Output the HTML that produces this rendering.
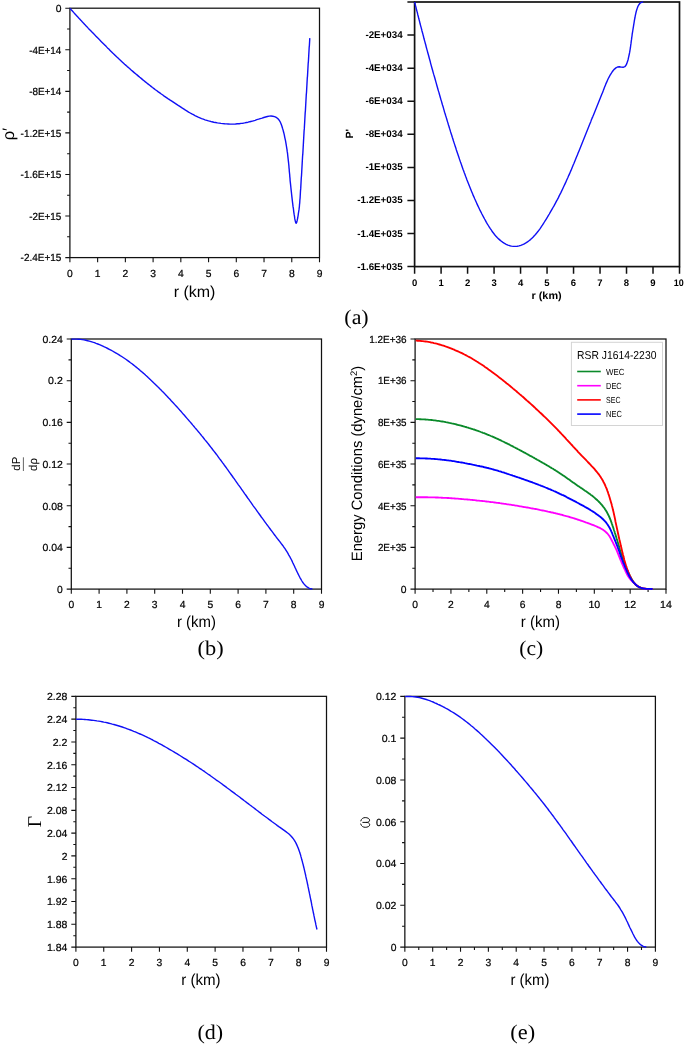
<!DOCTYPE html>
<html><head><meta charset="utf-8"><title>Figure</title>
<style>html,body{margin:0;padding:0;background:#fff}svg{display:block;will-change:transform;text-rendering:geometricPrecision}</style></head>
<body>
<svg width="685" height="1045" viewBox="0 0 685 1045" font-family="Liberation Sans, sans-serif" fill="#000">
<rect width="685" height="1045" fill="#fff"/>
<rect x="69.9" y="8.2" width="249.60" height="249.40" fill="none" stroke="#111" stroke-width="1.25"/>
<path d="M65.30,8.20H69.90M65.30,49.77H69.90M65.30,91.33H69.90M65.30,132.90H69.90M65.30,174.47H69.90M65.30,216.03H69.90M65.30,257.60H69.90M67.10,28.98H69.90M67.10,70.55H69.90M67.10,112.12H69.90M67.10,153.68H69.90M67.10,195.25H69.90M67.10,236.82H69.90M69.90,257.60V262.20M97.63,257.60V262.20M125.37,257.60V262.20M153.10,257.60V262.20M180.83,257.60V262.20M208.57,257.60V262.20M236.30,257.60V262.20M264.03,257.60V262.20M291.77,257.60V262.20M319.50,257.60V262.20" fill="none" stroke="#111" stroke-width="1.1"/>
<text x="61.4" y="12" text-anchor="end" font-size="10.3" stroke="#000" stroke-width="0.22">0</text>
<text x="61.4" y="54" text-anchor="end" font-size="10.3" stroke="#000" stroke-width="0.22" textLength="32.2" lengthAdjust="spacingAndGlyphs">-4E+14</text>
<text x="61.4" y="95" text-anchor="end" font-size="10.3" stroke="#000" stroke-width="0.22" textLength="32.2" lengthAdjust="spacingAndGlyphs">-8E+14</text>
<text x="61.4" y="137" text-anchor="end" font-size="10.3" stroke="#000" stroke-width="0.22" textLength="40.8" lengthAdjust="spacingAndGlyphs">-1.2E+15</text>
<text x="61.4" y="178" text-anchor="end" font-size="10.3" stroke="#000" stroke-width="0.22" textLength="40.8" lengthAdjust="spacingAndGlyphs">-1.6E+15</text>
<text x="61.4" y="220" text-anchor="end" font-size="10.3" stroke="#000" stroke-width="0.22" textLength="32.2" lengthAdjust="spacingAndGlyphs">-2E+15</text>
<text x="61.4" y="261" text-anchor="end" font-size="10.3" stroke="#000" stroke-width="0.22" textLength="40.8" lengthAdjust="spacingAndGlyphs">-2.4E+15</text>
<text x="69.9" y="277" text-anchor="middle" font-size="10.3" stroke="#000" stroke-width="0.22">0</text>
<text x="97.6" y="277" text-anchor="middle" font-size="10.3" stroke="#000" stroke-width="0.22">1</text>
<text x="125.4" y="277" text-anchor="middle" font-size="10.3" stroke="#000" stroke-width="0.22">2</text>
<text x="153.1" y="277" text-anchor="middle" font-size="10.3" stroke="#000" stroke-width="0.22">3</text>
<text x="180.8" y="277" text-anchor="middle" font-size="10.3" stroke="#000" stroke-width="0.22">4</text>
<text x="208.6" y="277" text-anchor="middle" font-size="10.3" stroke="#000" stroke-width="0.22">5</text>
<text x="236.3" y="277" text-anchor="middle" font-size="10.3" stroke="#000" stroke-width="0.22">6</text>
<text x="264.0" y="277" text-anchor="middle" font-size="10.3" stroke="#000" stroke-width="0.22">7</text>
<text x="291.8" y="277" text-anchor="middle" font-size="10.3" stroke="#000" stroke-width="0.22">8</text>
<text x="319.5" y="277" text-anchor="middle" font-size="10.3" stroke="#000" stroke-width="0.22">9</text>
<path d="M70.0,8.3 L71.2,9.7 L72.4,11.0 L73.6,12.4 L74.8,13.7 L76.0,15.1 L77.3,16.4 L78.5,17.8 L79.7,19.1 L81.0,20.4 L82.2,21.8 L83.4,23.1 L84.7,24.4 L85.9,25.8 L87.2,27.1 L88.4,28.4 L89.7,29.7 L91.0,31.0 L92.2,32.3 L93.5,33.6 L94.8,34.9 L96.0,36.2 L97.3,37.5 L98.6,38.8 L99.8,40.1 L101.1,41.4 L102.4,42.7 L103.7,44.0 L105.0,45.3 L106.3,46.6 L107.5,47.9 L108.8,49.1 L110.1,50.4 L111.4,51.7 L112.7,53.0 L114.0,54.2 L115.3,55.5 L116.6,56.8 L118.0,58.0 L119.3,59.3 L120.6,60.5 L121.9,61.7 L123.3,63.0 L124.6,64.2 L126.0,65.4 L127.3,66.6 L128.7,67.8 L130.1,69.0 L131.4,70.2 L132.8,71.4 L134.2,72.6 L135.6,73.8 L137.0,74.9 L138.4,76.1 L139.8,77.3 L141.2,78.4 L142.6,79.6 L144.0,80.7 L145.4,81.9 L146.8,83.0 L148.2,84.1 L149.7,85.3 L151.1,86.4 L152.5,87.5 L154.0,88.6 L155.4,89.7 L156.9,90.8 L158.3,91.9 L159.8,92.9 L161.3,94.0 L162.8,95.0 L164.2,96.1 L165.7,97.1 L167.2,98.1 L168.7,99.2 L170.2,100.2 L171.8,101.2 L173.3,102.2 L174.8,103.2 L176.3,104.2 L177.8,105.2 L179.4,106.2 L180.9,107.2 L182.4,108.2 L184.0,109.2 L185.5,110.2 L187.1,111.1 L188.6,112.1 L190.2,113.0 L191.8,113.9 L193.4,114.7 L195.0,115.6 L196.6,116.4 L198.2,117.2 L199.9,117.9 L201.6,118.6 L203.3,119.2 L205.0,119.8 L206.8,120.3 L208.5,120.9 L210.3,121.3 L212.0,121.8 L213.8,122.2 L215.6,122.5 L217.4,122.9 L219.2,123.1 L221.0,123.4 L222.8,123.6 L224.6,123.8 L226.4,123.9 L228.2,124.0 L230.1,124.1 L231.9,124.1 L233.7,124.1 L235.5,124.0 L237.4,123.8 L239.2,123.7 L241.0,123.4 L242.8,123.2 L244.6,122.9 L246.4,122.5 L248.1,122.2 L249.9,121.7 L251.6,121.3 L253.4,120.8 L255.1,120.3 L256.8,119.7 L258.6,119.2 L260.3,118.6 L262.1,118.1 L263.8,117.5 L265.6,117.0 L267.4,116.5 L269.2,116.1 L271.0,116.0 L272.8,116.2 L274.6,116.6 L276.2,117.4 L277.7,118.5 L278.9,119.8 L279.9,121.3 L280.7,123.0 L281.4,124.7 L282.0,126.5 L282.5,128.3 L283.1,130.1 L283.5,131.8 L284.0,133.6 L284.4,135.3 L284.7,137.1 L285.1,138.9 L285.5,140.6 L285.8,142.4 L286.1,144.2 L286.4,146.0 L286.7,147.8 L287.0,149.6 L287.2,151.4 L287.5,153.2 L287.7,155.0 L287.9,156.8 L288.1,158.6 L288.3,160.4 L288.5,162.2 L288.7,164.0 L288.9,165.8 L289.0,167.6 L289.2,169.4 L289.3,171.2 L289.5,173.0 L289.7,174.8 L289.8,176.6 L290.0,178.4 L290.1,180.3 L290.3,182.1 L290.5,183.9 L290.7,185.8 L290.9,187.7 L291.1,189.6 L291.3,191.4 L291.5,193.3 L291.7,195.1 L291.9,196.9 L292.1,198.7 L292.3,200.4 L292.5,202.1 L292.7,203.7 L292.9,205.3 L293.1,206.9 L293.4,208.5 L293.6,210.3 L293.8,212.1 L294.1,214.2 L294.5,216.4 L294.8,218.9 L295.3,221.1 L295.7,222.7 L296.2,223.2 L296.7,222.3 L297.2,220.4 L297.7,218.0 L298.1,215.6 L298.4,213.4 L298.7,211.5 L299.0,209.7 L299.2,208.0 L299.4,206.3 L299.5,204.7 L299.7,203.2 L299.8,201.5 L299.9,199.8 L300.1,198.1 L300.2,196.3 L300.3,194.5 L300.4,192.6 L300.5,190.7 L300.7,188.9 L300.8,187.0 L300.9,185.1 L301.0,183.2 L301.1,181.3 L301.2,179.5 L301.3,177.7 L301.5,175.8 L301.6,174.0 L301.7,172.2 L301.8,170.3 L301.9,168.5 L302.0,166.7 L302.1,164.9 L302.2,163.1 L302.3,161.3 L302.4,159.5 L302.5,157.8 L302.6,156.0 L302.8,154.2 L302.9,152.4 L303.0,150.6 L303.1,148.8 L303.2,147.0 L303.3,145.2 L303.4,143.4 L303.5,141.6 L303.6,139.8 L303.7,138.0 L303.8,136.2 L303.9,134.4 L304.0,132.6 L304.1,130.8 L304.3,128.9 L304.4,127.1 L304.5,125.3 L304.6,123.5 L304.7,121.7 L304.8,119.9 L304.9,118.0 L305.0,116.2 L305.1,114.4 L305.2,112.6 L305.4,110.8 L305.5,108.9 L305.6,107.1 L305.7,105.3 L305.8,103.5 L305.9,101.6 L306.0,99.8 L306.1,98.0 L306.2,96.2 L306.3,94.3 L306.5,92.5 L306.6,90.7 L306.7,88.8 L306.8,87.0 L306.9,85.2 L307.0,83.4 L307.1,81.5 L307.2,79.7 L307.3,77.9 L307.5,76.1 L307.6,74.3 L307.7,72.4 L307.8,70.6 L307.9,68.8 L308.0,67.0 L308.1,65.2 L308.2,63.3 L308.4,61.5 L308.5,59.7 L308.6,57.9 L308.7,56.1 L308.8,54.3 L308.9,52.5 L309.0,50.7 L309.1,48.9 L309.2,47.1 L309.4,45.3 L309.5,43.5 L309.6,41.7 L309.7,39.9 L309.8,38.1" fill="none" stroke="#1010f5" stroke-width="1.4" stroke-linejoin="round"/>
<text x="194.5" y="297" text-anchor="middle" font-size="15.8" textLength="41.7" lengthAdjust="spacingAndGlyphs">r (km)</text>
<text transform="translate(14.4,140.3) rotate(-90)" font-size="16.5">ρ′</text>
<rect x="414.6" y="2.0" width="264.90" height="264.60" fill="none" stroke="#111" stroke-width="1.7"/>
<path d="M407.40,2.00H414.60M407.40,35.08H414.60M407.40,68.15H414.60M407.40,101.23H414.60M407.40,134.30H414.60M407.40,167.38H414.60M407.40,200.45H414.60M407.40,233.53H414.60M407.40,266.60H414.60M414.60,266.60V273.80M441.09,266.60V273.80M467.58,266.60V273.80M494.07,266.60V273.80M520.56,266.60V273.80M547.05,266.60V273.80M573.54,266.60V273.80M600.03,266.60V273.80M626.52,266.60V273.80M653.01,266.60V273.80M679.50,266.60V273.80" fill="none" stroke="#111" stroke-width="1.5"/>
<text x="402.7" y="38" text-anchor="end" font-size="9.8" font-weight="bold">-2E+034</text>
<text x="402.7" y="71" text-anchor="end" font-size="9.8" font-weight="bold">-4E+034</text>
<text x="402.7" y="104" text-anchor="end" font-size="9.8" font-weight="bold">-6E+034</text>
<text x="402.7" y="137" text-anchor="end" font-size="9.8" font-weight="bold">-8E+034</text>
<text x="402.7" y="170" text-anchor="end" font-size="9.8" font-weight="bold">-1E+035</text>
<text x="402.7" y="203" text-anchor="end" font-size="9.8" font-weight="bold">-1.2E+035</text>
<text x="402.7" y="237" text-anchor="end" font-size="9.8" font-weight="bold">-1.4E+035</text>
<text x="402.7" y="270" text-anchor="end" font-size="9.8" font-weight="bold">-1.6E+035</text>
<text x="414.6" y="286" text-anchor="middle" font-size="9.5" font-weight="bold">0</text>
<text x="441.1" y="286" text-anchor="middle" font-size="9.5" font-weight="bold">1</text>
<text x="467.6" y="286" text-anchor="middle" font-size="9.5" font-weight="bold">2</text>
<text x="494.1" y="286" text-anchor="middle" font-size="9.5" font-weight="bold">3</text>
<text x="520.6" y="286" text-anchor="middle" font-size="9.5" font-weight="bold">4</text>
<text x="547.0" y="286" text-anchor="middle" font-size="9.5" font-weight="bold">5</text>
<text x="573.5" y="286" text-anchor="middle" font-size="9.5" font-weight="bold">6</text>
<text x="600.0" y="286" text-anchor="middle" font-size="9.5" font-weight="bold">7</text>
<text x="626.5" y="286" text-anchor="middle" font-size="9.5" font-weight="bold">8</text>
<text x="653.0" y="286" text-anchor="middle" font-size="9.5" font-weight="bold">9</text>
<text x="678.7" y="286" text-anchor="middle" font-size="9.5" font-weight="bold" textLength="10" lengthAdjust="spacingAndGlyphs">10</text>
<path d="M414.6,2.0 L415.1,3.8 L415.5,5.6 L416.0,7.4 L416.4,9.3 L416.9,11.1 L417.4,12.9 L417.8,14.7 L418.3,16.5 L418.7,18.3 L419.2,20.1 L419.7,22.0 L420.1,23.8 L420.6,25.6 L421.1,27.4 L421.6,29.2 L422.0,31.0 L422.5,32.8 L423.0,34.6 L423.5,36.5 L423.9,38.3 L424.4,40.1 L424.9,41.9 L425.4,43.7 L425.9,45.5 L426.3,47.3 L426.8,49.1 L427.3,50.9 L427.8,52.7 L428.3,54.5 L428.8,56.3 L429.3,58.2 L429.8,60.0 L430.3,61.8 L430.7,63.6 L431.2,65.4 L431.7,67.2 L432.2,69.0 L432.7,70.8 L433.2,72.6 L433.7,74.4 L434.3,76.2 L434.8,78.0 L435.3,79.8 L435.8,81.6 L436.3,83.4 L436.8,85.2 L437.3,87.0 L437.8,88.8 L438.3,90.6 L438.9,92.4 L439.4,94.2 L439.9,96.0 L440.4,97.8 L440.9,99.6 L441.5,101.4 L442.0,103.2 L442.5,105.0 L443.1,106.8 L443.6,108.6 L444.1,110.4 L444.6,112.2 L445.2,114.0 L445.7,115.8 L446.3,117.6 L446.8,119.3 L447.3,121.1 L447.9,122.9 L448.4,124.7 L449.0,126.5 L449.5,128.3 L450.1,130.1 L450.6,131.9 L451.2,133.7 L451.8,135.5 L452.3,137.2 L452.9,139.0 L453.4,140.8 L454.0,142.6 L454.6,144.4 L455.2,146.2 L455.8,147.9 L456.3,149.7 L456.9,151.5 L457.5,153.3 L458.1,155.0 L458.7,156.8 L459.3,158.6 L459.9,160.4 L460.5,162.1 L461.2,163.9 L461.8,165.7 L462.4,167.4 L463.0,169.2 L463.7,171.0 L464.3,172.7 L465.0,174.5 L465.6,176.2 L466.3,178.0 L466.9,179.7 L467.6,181.5 L468.3,183.2 L469.0,185.0 L469.7,186.7 L470.4,188.4 L471.1,190.2 L471.8,191.9 L472.5,193.6 L473.2,195.4 L474.0,197.1 L474.7,198.8 L475.5,200.5 L476.3,202.2 L477.0,203.9 L477.8,205.6 L478.6,207.3 L479.4,209.0 L480.2,210.7 L481.1,212.3 L481.9,214.0 L482.8,215.7 L483.7,217.3 L484.6,219.0 L485.5,220.6 L486.4,222.3 L487.3,223.9 L488.3,225.5 L489.3,227.1 L490.3,228.7 L491.4,230.2 L492.4,231.8 L493.6,233.3 L494.7,234.7 L496.0,236.2 L497.2,237.5 L498.6,238.9 L500.0,240.1 L501.4,241.3 L502.9,242.4 L504.5,243.4 L506.2,244.3 L507.9,245.1 L509.7,245.7 L511.5,246.1 L513.4,246.4 L515.3,246.4 L517.2,246.2 L519.0,245.9 L520.8,245.3 L522.6,244.6 L524.3,243.8 L525.9,242.9 L527.5,241.9 L529.0,240.8 L530.5,239.6 L531.9,238.3 L533.2,237.0 L534.5,235.6 L535.7,234.2 L536.9,232.8 L538.1,231.3 L539.2,229.8 L540.3,228.3 L541.4,226.7 L542.4,225.2 L543.4,223.6 L544.4,222.0 L545.4,220.4 L546.4,218.8 L547.4,217.2 L548.3,215.6 L549.3,214.0 L550.2,212.4 L551.2,210.7 L552.1,209.1 L553.0,207.5 L554.0,205.9 L554.9,204.2 L555.7,202.6 L556.6,200.9 L557.5,199.3 L558.4,197.6 L559.2,195.9 L560.0,194.3 L560.9,192.6 L561.7,190.9 L562.5,189.2 L563.3,187.5 L564.1,185.8 L564.9,184.1 L565.7,182.4 L566.4,180.7 L567.2,179.0 L568.0,177.3 L568.7,175.6 L569.5,173.9 L570.2,172.2 L571.0,170.4 L571.7,168.7 L572.4,167.0 L573.1,165.3 L573.9,163.5 L574.6,161.8 L575.3,160.1 L576.0,158.3 L576.7,156.6 L577.4,154.9 L578.1,153.1 L578.8,151.4 L579.5,149.7 L580.2,147.9 L580.9,146.2 L581.6,144.5 L582.3,142.7 L583.0,141.0 L583.7,139.2 L584.4,137.5 L585.1,135.8 L585.8,134.0 L586.5,132.3 L587.2,130.5 L587.9,128.8 L588.6,127.1 L589.3,125.3 L590.0,123.6 L590.7,121.9 L591.3,120.1 L592.0,118.4 L592.8,116.6 L593.5,114.9 L594.2,113.2 L594.9,111.4 L595.6,109.7 L596.3,108.0 L597.0,106.3 L597.7,104.5 L598.4,102.8 L599.1,101.0 L599.8,99.3 L600.5,97.6 L601.2,95.8 L601.9,94.1 L602.6,92.4 L603.3,90.6 L603.9,88.9 L604.6,87.1 L605.3,85.4 L606.0,83.6 L606.8,81.9 L607.5,80.2 L608.3,78.5 L609.2,76.8 L610.1,75.2 L611.1,73.6 L612.1,72.0 L613.2,70.5 L614.5,69.1 L615.9,67.9 L617.5,67.0 L619.4,66.7 L621.2,67.1 L623.1,67.3 L624.8,66.7 L626.0,65.3 L626.8,63.6 L627.4,61.8 L628.0,60.0 L628.4,58.2 L628.8,56.4 L629.2,54.5 L629.6,52.7 L629.9,50.9 L630.2,49.0 L630.5,47.2 L630.7,45.3 L631.0,43.4 L631.2,41.6 L631.5,39.7 L631.7,37.9 L632.0,36.0 L632.2,34.2 L632.5,32.3 L632.8,30.5 L633.1,28.6 L633.4,26.8 L633.7,24.9 L634.0,23.1 L634.3,21.2 L634.6,19.4 L635.0,17.5 L635.3,15.7 L635.7,13.9 L636.1,12.0 L636.6,10.2 L637.2,8.4 L637.8,6.7 L638.7,5.0 L639.8,3.5 L641.3,2.4 L643.2,2.0" fill="none" stroke="#1010f5" stroke-width="1.4" stroke-linejoin="round"/>
<text x="546.6" y="298.9" text-anchor="middle" font-size="10.5" font-weight="bold" textLength="30.2" lengthAdjust="spacingAndGlyphs">r (km)</text>
<text transform="translate(353.4,138.4) rotate(-90)" font-size="10.5" font-weight="bold">P'</text>
<rect x="71.3" y="339.0" width="250.20" height="250.10" fill="none" stroke="#111" stroke-width="1.25"/>
<path d="M66.70,339.00H71.30M66.70,380.68H71.30M66.70,422.37H71.30M66.70,464.05H71.30M66.70,505.73H71.30M66.70,547.42H71.30M66.70,589.10H71.30M68.50,359.84H71.30M68.50,401.52H71.30M68.50,443.21H71.30M68.50,484.89H71.30M68.50,526.58H71.30M68.50,568.26H71.30M71.30,589.10V593.70M99.10,589.10V593.70M126.90,589.10V593.70M154.70,589.10V593.70M182.50,589.10V593.70M210.30,589.10V593.70M238.10,589.10V593.70M265.90,589.10V593.70M293.70,589.10V593.70M321.50,589.10V593.70" fill="none" stroke="#111" stroke-width="1.1"/>
<text x="62.8" y="343" text-anchor="end" font-size="10.3" stroke="#000" stroke-width="0.22" textLength="20.4" lengthAdjust="spacingAndGlyphs">0.24</text>
<text x="62.8" y="384" text-anchor="end" font-size="10.3" stroke="#000" stroke-width="0.22" textLength="14.7" lengthAdjust="spacingAndGlyphs">0.2</text>
<text x="62.8" y="426" text-anchor="end" font-size="10.3" stroke="#000" stroke-width="0.22" textLength="20.4" lengthAdjust="spacingAndGlyphs">0.16</text>
<text x="62.8" y="468" text-anchor="end" font-size="10.3" stroke="#000" stroke-width="0.22" textLength="20.4" lengthAdjust="spacingAndGlyphs">0.12</text>
<text x="62.8" y="510" text-anchor="end" font-size="10.3" stroke="#000" stroke-width="0.22" textLength="20.4" lengthAdjust="spacingAndGlyphs">0.08</text>
<text x="62.8" y="551" text-anchor="end" font-size="10.3" stroke="#000" stroke-width="0.22" textLength="20.4" lengthAdjust="spacingAndGlyphs">0.04</text>
<text x="62.8" y="593" text-anchor="end" font-size="10.3" stroke="#000" stroke-width="0.22">0</text>
<text x="71.3" y="608" text-anchor="middle" font-size="10.3" stroke="#000" stroke-width="0.22">0</text>
<text x="99.1" y="608" text-anchor="middle" font-size="10.3" stroke="#000" stroke-width="0.22">1</text>
<text x="126.9" y="608" text-anchor="middle" font-size="10.3" stroke="#000" stroke-width="0.22">2</text>
<text x="154.7" y="608" text-anchor="middle" font-size="10.3" stroke="#000" stroke-width="0.22">3</text>
<text x="182.5" y="608" text-anchor="middle" font-size="10.3" stroke="#000" stroke-width="0.22">4</text>
<text x="210.3" y="608" text-anchor="middle" font-size="10.3" stroke="#000" stroke-width="0.22">5</text>
<text x="238.1" y="608" text-anchor="middle" font-size="10.3" stroke="#000" stroke-width="0.22">6</text>
<text x="265.9" y="608" text-anchor="middle" font-size="10.3" stroke="#000" stroke-width="0.22">7</text>
<text x="293.7" y="608" text-anchor="middle" font-size="10.3" stroke="#000" stroke-width="0.22">8</text>
<text x="321.5" y="608" text-anchor="middle" font-size="10.3" stroke="#000" stroke-width="0.22">9</text>
<path d="M71.5,339.2 L73.3,339.1 L75.1,339.1 L76.9,339.1 L78.7,339.2 L80.5,339.4 L82.3,339.6 L84.1,339.9 L85.8,340.3 L87.6,340.7 L89.3,341.1 L91.0,341.6 L92.7,342.2 L94.4,342.7 L96.1,343.4 L97.8,344.0 L99.5,344.7 L101.2,345.4 L102.8,346.1 L104.4,346.9 L106.1,347.7 L107.7,348.5 L109.3,349.3 L110.9,350.1 L112.5,351.0 L114.0,351.9 L115.6,352.8 L117.1,353.7 L118.7,354.6 L120.2,355.6 L121.7,356.5 L123.2,357.5 L124.7,358.5 L126.2,359.5 L127.7,360.6 L129.1,361.6 L130.5,362.7 L132.0,363.8 L133.4,364.9 L134.8,366.0 L136.2,367.1 L137.6,368.3 L139.0,369.4 L140.3,370.6 L141.7,371.7 L143.1,372.9 L144.4,374.1 L145.7,375.3 L147.1,376.5 L148.4,377.8 L149.7,379.0 L151.0,380.2 L152.3,381.4 L153.6,382.7 L154.9,383.9 L156.2,385.2 L157.5,386.5 L158.8,387.7 L160.0,389.0 L161.3,390.3 L162.5,391.6 L163.8,392.8 L165.0,394.1 L166.3,395.4 L167.5,396.7 L168.7,398.0 L170.0,399.3 L171.2,400.7 L172.4,402.0 L173.6,403.3 L174.8,404.6 L176.1,406.0 L177.3,407.3 L178.5,408.6 L179.7,410.0 L180.9,411.3 L182.0,412.6 L183.2,414.0 L184.4,415.3 L185.6,416.7 L186.8,418.1 L187.9,419.4 L189.1,420.8 L190.3,422.1 L191.5,423.5 L192.6,424.9 L193.8,426.2 L194.9,427.6 L196.1,429.0 L197.3,430.4 L198.4,431.7 L199.6,433.1 L200.7,434.5 L201.8,435.9 L203.0,437.3 L204.1,438.7 L205.2,440.1 L206.4,441.5 L207.5,442.9 L208.6,444.3 L209.7,445.7 L210.8,447.1 L211.9,448.5 L213.0,450.0 L214.1,451.4 L215.2,452.8 L216.3,454.2 L217.4,455.7 L218.4,457.1 L219.5,458.6 L220.6,460.0 L221.6,461.4 L222.7,462.9 L223.8,464.3 L224.8,465.8 L225.9,467.2 L226.9,468.7 L228.0,470.2 L229.0,471.6 L230.1,473.1 L231.1,474.5 L232.2,476.0 L233.2,477.5 L234.3,478.9 L235.3,480.4 L236.3,481.8 L237.4,483.3 L238.4,484.8 L239.4,486.2 L240.5,487.7 L241.5,489.2 L242.6,490.6 L243.6,492.1 L244.6,493.6 L245.7,495.0 L246.7,496.5 L247.7,498.0 L248.8,499.4 L249.8,500.9 L250.9,502.4 L251.9,503.8 L252.9,505.3 L254.0,506.8 L255.0,508.2 L256.1,509.7 L257.1,511.1 L258.2,512.6 L259.2,514.0 L260.3,515.5 L261.3,517.0 L262.4,518.4 L263.5,519.9 L264.5,521.3 L265.6,522.8 L266.6,524.2 L267.7,525.6 L268.8,527.1 L269.8,528.5 L270.9,530.0 L272.0,531.4 L273.1,532.9 L274.1,534.3 L275.2,535.7 L276.3,537.2 L277.4,538.6 L278.5,540.0 L279.6,541.4 L280.7,542.8 L281.8,544.3 L282.9,545.7 L283.9,547.2 L285.0,548.6 L285.9,550.1 L286.9,551.7 L287.8,553.2 L288.7,554.8 L289.6,556.3 L290.4,557.9 L291.3,559.5 L292.1,561.1 L292.8,562.7 L293.6,564.4 L294.4,566.0 L295.1,567.6 L295.9,569.2 L296.6,570.9 L297.4,572.5 L298.2,574.1 L299.0,575.7 L299.8,577.3 L300.7,578.9 L301.6,580.5 L302.5,582.0 L303.5,583.4 L304.7,584.8 L306.0,586.1 L307.4,587.2 L308.9,588.2 L310.6,588.8 L312.4,589.0" fill="none" stroke="#1010f5" stroke-width="1.4" stroke-linejoin="round"/>
<text x="196.4" y="627" text-anchor="middle" font-size="15.8" textLength="39.0" lengthAdjust="spacingAndGlyphs">r (km)</text>
<text transform="translate(20.4,470.7) rotate(-90)" font-size="11.5">dP</text>
<text transform="translate(37.2,470.9) rotate(-90)" font-size="11.5">dρ</text>
<path d="M23.4,457.3V471" stroke="#555" stroke-width="0.9"/>
<rect x="415.1" y="339.0" width="250.90" height="250.10" fill="none" stroke="#111" stroke-width="1.25"/>
<path d="M410.50,339.00H415.10M410.50,380.68H415.10M410.50,422.37H415.10M410.50,464.05H415.10M410.50,505.73H415.10M410.50,547.42H415.10M410.50,589.10H415.10M412.30,359.84H415.10M412.30,401.52H415.10M412.30,443.21H415.10M412.30,484.89H415.10M412.30,526.58H415.10M412.30,568.26H415.10M415.10,589.10V593.70M450.94,589.10V593.70M486.79,589.10V593.70M522.63,589.10V593.70M558.47,589.10V593.70M594.31,589.10V593.70M630.16,589.10V593.70M666.00,589.10V593.70M433.02,589.10V591.90M468.86,589.10V591.90M504.71,589.10V591.90M540.55,589.10V591.90M576.39,589.10V591.90M612.24,589.10V591.90M648.08,589.10V591.90" fill="none" stroke="#111" stroke-width="1.1"/>
<text x="406.6" y="343" text-anchor="end" font-size="10.3" stroke="#000" stroke-width="0.22" textLength="37.4" lengthAdjust="spacingAndGlyphs">1.2E+36</text>
<text x="406.6" y="384" text-anchor="end" font-size="10.3" stroke="#000" stroke-width="0.22" textLength="28.7" lengthAdjust="spacingAndGlyphs">1E+36</text>
<text x="406.6" y="426" text-anchor="end" font-size="10.3" stroke="#000" stroke-width="0.22" textLength="28.7" lengthAdjust="spacingAndGlyphs">8E+35</text>
<text x="406.6" y="468" text-anchor="end" font-size="10.3" stroke="#000" stroke-width="0.22" textLength="28.7" lengthAdjust="spacingAndGlyphs">6E+35</text>
<text x="406.6" y="510" text-anchor="end" font-size="10.3" stroke="#000" stroke-width="0.22" textLength="28.7" lengthAdjust="spacingAndGlyphs">4E+35</text>
<text x="406.6" y="551" text-anchor="end" font-size="10.3" stroke="#000" stroke-width="0.22" textLength="28.7" lengthAdjust="spacingAndGlyphs">2E+35</text>
<text x="406.6" y="593" text-anchor="end" font-size="10.3" stroke="#000" stroke-width="0.22">0</text>
<text x="415.1" y="608" text-anchor="middle" font-size="10.3" stroke="#000" stroke-width="0.22">0</text>
<text x="450.9" y="608" text-anchor="middle" font-size="10.3" stroke="#000" stroke-width="0.22">2</text>
<text x="486.8" y="608" text-anchor="middle" font-size="10.3" stroke="#000" stroke-width="0.22">4</text>
<text x="522.6" y="608" text-anchor="middle" font-size="10.3" stroke="#000" stroke-width="0.22">6</text>
<text x="558.5" y="608" text-anchor="middle" font-size="10.3" stroke="#000" stroke-width="0.22">8</text>
<text x="594.3" y="608" text-anchor="middle" font-size="10.3" stroke="#000" stroke-width="0.22" textLength="11.8" lengthAdjust="spacingAndGlyphs">10</text>
<text x="630.2" y="608" text-anchor="middle" font-size="10.3" stroke="#000" stroke-width="0.22" textLength="11.8" lengthAdjust="spacingAndGlyphs">12</text>
<text x="666.0" y="608" text-anchor="middle" font-size="10.3" stroke="#000" stroke-width="0.22" textLength="11.8" lengthAdjust="spacingAndGlyphs">14</text>
<path d="M415.7,419.1 L416.9,419.1 L418.1,419.1 L419.3,419.2 L420.5,419.2 L421.8,419.3 L423.0,419.3 L424.2,419.4 L425.4,419.5 L426.6,419.6 L427.8,419.7 L429.0,419.8 L430.2,419.9 L431.4,420.0 L432.6,420.1 L433.8,420.3 L435.0,420.4 L436.2,420.6 L437.4,420.8 L438.6,420.9 L439.8,421.1 L441.0,421.3 L442.2,421.5 L443.4,421.7 L444.6,421.9 L445.8,422.2 L447.0,422.4 L448.2,422.6 L449.4,422.9 L450.5,423.1 L451.7,423.4 L452.9,423.6 L454.1,423.9 L455.3,424.2 L456.5,424.5 L457.6,424.8 L458.8,425.1 L460.0,425.4 L461.1,425.7 L462.3,426.0 L463.5,426.3 L464.6,426.7 L465.8,427.0 L467.0,427.4 L468.1,427.7 L469.3,428.1 L470.4,428.4 L471.6,428.8 L472.8,429.2 L473.9,429.5 L475.1,429.9 L476.2,430.3 L477.3,430.7 L478.5,431.1 L479.6,431.5 L480.8,432.0 L481.9,432.4 L483.0,432.8 L484.2,433.2 L485.3,433.7 L486.4,434.1 L487.5,434.6 L488.7,435.0 L489.8,435.5 L490.9,436.0 L492.0,436.4 L493.1,436.9 L494.2,437.4 L495.3,437.9 L496.4,438.4 L497.6,438.9 L498.6,439.4 L499.7,439.9 L500.8,440.4 L501.9,441.0 L503.0,441.5 L504.1,442.0 L505.2,442.6 L506.3,443.1 L507.4,443.6 L508.5,444.2 L509.5,444.7 L510.6,445.3 L511.7,445.8 L512.8,446.4 L513.8,447.0 L514.9,447.5 L516.0,448.1 L517.1,448.6 L518.1,449.2 L519.2,449.8 L520.3,450.4 L521.3,450.9 L522.4,451.5 L523.5,452.1 L524.5,452.7 L525.6,453.2 L526.6,453.8 L527.7,454.4 L528.8,455.0 L529.8,455.6 L530.9,456.2 L532.0,456.7 L533.0,457.3 L534.1,457.9 L535.1,458.5 L536.2,459.1 L537.2,459.7 L538.3,460.3 L539.4,460.9 L540.4,461.5 L541.5,462.1 L542.5,462.7 L543.6,463.3 L544.6,463.9 L545.7,464.5 L546.7,465.1 L547.8,465.7 L548.8,466.3 L549.8,467.0 L550.9,467.6 L551.9,468.2 L553.0,468.8 L554.0,469.5 L555.0,470.1 L556.0,470.8 L557.1,471.4 L558.1,472.1 L559.1,472.7 L560.1,473.4 L561.1,474.1 L562.1,474.7 L563.1,475.4 L564.1,476.1 L565.1,476.8 L566.1,477.5 L567.1,478.2 L568.1,478.9 L569.1,479.6 L570.1,480.3 L571.0,481.0 L572.0,481.7 L573.0,482.4 L574.0,483.1 L575.0,483.8 L576.0,484.5 L577.0,485.2 L578.0,485.9 L579.0,486.6 L580.0,487.3 L581.0,487.9 L582.0,488.6 L583.0,489.3 L584.0,490.0 L585.0,490.7 L586.0,491.3 L587.0,492.0 L588.0,492.7 L589.0,493.4 L589.9,494.1 L590.9,494.9 L591.9,495.6 L592.8,496.3 L593.8,497.1 L594.7,497.9 L595.6,498.7 L596.5,499.5 L597.4,500.3 L598.3,501.2 L599.1,502.0 L600.0,502.9 L600.8,503.8 L601.6,504.7 L602.4,505.6 L603.1,506.6 L603.9,507.5 L604.6,508.5 L605.2,509.5 L605.9,510.6 L606.5,511.6 L607.1,512.6 L607.7,513.7 L608.2,514.8 L608.8,515.9 L609.3,517.0 L609.8,518.1 L610.2,519.2 L610.7,520.4 L611.1,521.5 L611.5,522.6 L611.9,523.8 L612.3,524.9 L612.7,526.1 L613.1,527.2 L613.5,528.4 L613.8,529.5 L614.2,530.7 L614.6,531.8 L614.9,533.0 L615.3,534.1 L615.7,535.3 L616.0,536.4 L616.4,537.6 L616.7,538.8 L617.1,539.9 L617.4,541.1 L617.8,542.2 L618.1,543.4 L618.5,544.6 L618.8,545.7 L619.1,546.9 L619.5,548.1 L619.8,549.2 L620.2,550.4 L620.5,551.5 L620.9,552.7 L621.2,553.8 L621.6,555.0 L622.0,556.2 L622.4,557.3 L622.8,558.4 L623.2,559.6 L623.6,560.7 L624.0,561.9 L624.4,563.0 L624.8,564.1 L625.3,565.3 L625.7,566.4 L626.2,567.5 L626.6,568.6 L627.1,569.8 L627.6,570.9 L628.1,572.0 L628.6,573.1 L629.1,574.2 L629.6,575.3 L630.1,576.3 L630.7,577.4 L631.3,578.5 L631.9,579.6 L632.5,580.6 L633.2,581.6 L633.9,582.6 L634.7,583.5 L635.5,584.4 L636.4,585.2 L637.4,586.0 L638.4,586.6 L639.5,587.2 L640.6,587.7 L641.7,588.1 L642.9,588.4 L644.1,588.6 L645.3,588.7 L646.6,588.8 L647.8,588.9 L649.0,588.9 L650.2,588.9 L651.4,589.0 L652.6,589.0" fill="none" stroke="#0a8a2a" stroke-width="1.85" stroke-linejoin="round"/>
<path d="M415.7,497.2 L416.8,497.2 L417.8,497.2 L418.9,497.2 L419.9,497.2 L421.0,497.2 L422.0,497.2 L423.1,497.2 L424.2,497.2 L425.2,497.2 L426.3,497.2 L427.3,497.2 L428.4,497.3 L429.4,497.3 L430.5,497.3 L431.6,497.3 L432.6,497.4 L433.7,497.4 L434.7,497.4 L435.8,497.5 L436.9,497.5 L437.9,497.5 L439.0,497.6 L440.0,497.6 L441.1,497.7 L442.1,497.7 L443.2,497.8 L444.2,497.8 L445.3,497.9 L446.4,497.9 L447.4,498.0 L448.5,498.0 L449.5,498.1 L450.6,498.2 L451.6,498.2 L452.7,498.3 L453.7,498.4 L454.8,498.5 L455.9,498.6 L456.9,498.6 L458.0,498.7 L459.0,498.8 L460.1,498.9 L461.1,499.0 L462.2,499.1 L463.2,499.2 L464.3,499.3 L465.3,499.3 L466.4,499.4 L467.5,499.5 L468.5,499.6 L469.6,499.7 L470.6,499.8 L471.7,499.9 L472.7,500.0 L473.8,500.1 L474.8,500.2 L475.9,500.3 L476.9,500.5 L478.0,500.6 L479.0,500.7 L480.1,500.8 L481.1,500.9 L482.2,501.0 L483.2,501.1 L484.3,501.2 L485.3,501.4 L486.4,501.5 L487.4,501.6 L488.5,501.7 L489.5,501.8 L490.6,502.0 L491.6,502.1 L492.7,502.2 L493.7,502.4 L494.8,502.5 L495.8,502.6 L496.9,502.8 L497.9,502.9 L499.0,503.0 L500.0,503.2 L501.1,503.3 L502.1,503.5 L503.2,503.6 L504.2,503.8 L505.3,503.9 L506.3,504.1 L507.4,504.3 L508.4,504.4 L509.5,504.6 L510.5,504.7 L511.5,504.9 L512.6,505.1 L513.6,505.2 L514.7,505.4 L515.7,505.6 L516.8,505.7 L517.8,505.9 L518.9,506.1 L519.9,506.3 L520.9,506.4 L522.0,506.6 L523.0,506.8 L524.1,507.0 L525.1,507.1 L526.1,507.3 L527.2,507.5 L528.2,507.7 L529.3,507.9 L530.3,508.1 L531.4,508.3 L532.4,508.5 L533.4,508.7 L534.5,508.9 L535.5,509.0 L536.6,509.2 L537.6,509.4 L538.6,509.6 L539.7,509.9 L540.7,510.1 L541.7,510.3 L542.8,510.5 L543.8,510.7 L544.8,510.9 L545.9,511.1 L546.9,511.3 L548.0,511.6 L549.0,511.8 L550.0,512.0 L551.1,512.3 L552.1,512.5 L553.1,512.7 L554.1,513.0 L555.2,513.2 L556.2,513.5 L557.2,513.7 L558.3,514.0 L559.3,514.2 L560.3,514.5 L561.3,514.7 L562.4,515.0 L563.4,515.3 L564.4,515.6 L565.4,515.8 L566.4,516.1 L567.5,516.4 L568.5,516.7 L569.5,517.0 L570.5,517.3 L571.5,517.6 L572.5,517.9 L573.5,518.2 L574.6,518.5 L575.6,518.8 L576.6,519.2 L577.6,519.5 L578.6,519.8 L579.6,520.2 L580.6,520.5 L581.6,520.8 L582.6,521.2 L583.6,521.5 L584.6,521.9 L585.6,522.3 L586.6,522.6 L587.6,523.0 L588.6,523.3 L589.5,523.7 L590.5,524.1 L591.5,524.5 L592.5,524.8 L593.5,525.2 L594.5,525.6 L595.5,526.0 L596.4,526.4 L597.4,526.8 L598.4,527.3 L599.3,527.7 L600.3,528.2 L601.2,528.7 L602.1,529.2 L603.0,529.8 L603.9,530.4 L604.7,531.1 L605.5,531.7 L606.3,532.5 L607.1,533.2 L607.8,534.0 L608.4,534.8 L609.1,535.7 L609.7,536.6 L610.2,537.5 L610.7,538.4 L611.2,539.3 L611.7,540.3 L612.2,541.2 L612.7,542.2 L613.2,543.1 L613.6,544.0 L614.1,545.0 L614.6,545.9 L615.0,546.9 L615.5,547.8 L616.0,548.8 L616.4,549.7 L616.8,550.7 L617.2,551.7 L617.6,552.7 L618.0,553.6 L618.4,554.6 L618.8,555.6 L619.2,556.6 L619.6,557.6 L620.0,558.6 L620.4,559.6 L620.8,560.5 L621.2,561.5 L621.6,562.5 L622.0,563.4 L622.4,564.4 L622.9,565.4 L623.3,566.3 L623.7,567.3 L624.2,568.3 L624.6,569.2 L625.1,570.2 L625.5,571.2 L626.0,572.1 L626.4,573.1 L626.9,574.0 L627.4,575.0 L627.9,575.9 L628.5,576.8 L629.1,577.7 L629.7,578.5 L630.3,579.3 L631.0,580.1 L631.8,580.9 L632.5,581.6 L633.3,582.4 L634.1,583.1 L634.9,583.8 L635.7,584.5 L636.5,585.2 L637.4,585.8 L638.2,586.5 L639.1,587.0 L640.1,587.5 L641.0,587.9 L642.0,588.2 L643.1,588.4 L644.1,588.6 L645.2,588.7 L646.3,588.8 L647.3,588.9 L648.4,588.9 L649.5,588.9 L650.6,588.9 L651.6,589.0 L652.6,589.0" fill="none" stroke="#ff00ff" stroke-width="1.85" stroke-linejoin="round"/>
<path d="M415.7,340.6 L417.1,340.7 L418.5,340.7 L420.0,340.8 L421.4,341.0 L422.8,341.1 L424.2,341.3 L425.6,341.5 L427.0,341.7 L428.4,341.9 L429.8,342.2 L431.2,342.5 L432.6,342.7 L433.9,343.1 L435.3,343.4 L436.7,343.7 L438.1,344.1 L439.4,344.5 L440.8,344.9 L442.1,345.3 L443.5,345.7 L444.8,346.2 L446.2,346.7 L447.5,347.1 L448.9,347.6 L450.2,348.1 L451.5,348.6 L452.8,349.2 L454.1,349.7 L455.4,350.3 L456.7,350.8 L458.0,351.4 L459.3,352.0 L460.6,352.6 L461.9,353.2 L463.2,353.8 L464.4,354.5 L465.7,355.1 L466.9,355.8 L468.2,356.5 L469.4,357.1 L470.7,357.8 L471.9,358.5 L473.1,359.3 L474.3,360.0 L475.5,360.7 L476.8,361.5 L478.0,362.2 L479.1,363.0 L480.3,363.8 L481.5,364.5 L482.7,365.3 L483.9,366.1 L485.0,366.9 L486.2,367.7 L487.4,368.6 L488.5,369.4 L489.7,370.2 L490.8,371.1 L492.0,371.9 L493.1,372.7 L494.2,373.6 L495.4,374.4 L496.5,375.3 L497.6,376.1 L498.7,377.0 L499.9,377.9 L501.0,378.7 L502.1,379.6 L503.2,380.5 L504.3,381.4 L505.4,382.3 L506.5,383.2 L507.6,384.0 L508.7,384.9 L509.8,385.8 L510.9,386.7 L512.0,387.6 L513.1,388.6 L514.2,389.5 L515.3,390.4 L516.4,391.3 L517.4,392.2 L518.5,393.1 L519.6,394.1 L520.7,395.0 L521.7,395.9 L522.8,396.8 L523.9,397.8 L524.9,398.7 L526.0,399.7 L527.0,400.6 L528.1,401.5 L529.2,402.5 L530.2,403.4 L531.3,404.4 L532.3,405.3 L533.4,406.3 L534.4,407.2 L535.4,408.2 L536.5,409.2 L537.5,410.1 L538.6,411.1 L539.6,412.1 L540.6,413.0 L541.7,414.0 L542.7,415.0 L543.7,416.0 L544.7,416.9 L545.8,417.9 L546.8,418.9 L547.8,419.9 L548.8,420.9 L549.8,421.9 L550.8,422.9 L551.8,423.9 L552.8,424.9 L553.8,425.9 L554.8,426.9 L555.8,427.9 L556.8,428.9 L557.8,430.0 L558.8,431.0 L559.7,432.0 L560.7,433.0 L561.7,434.1 L562.7,435.1 L563.6,436.1 L564.6,437.2 L565.5,438.2 L566.5,439.3 L567.5,440.3 L568.4,441.3 L569.4,442.4 L570.3,443.4 L571.3,444.5 L572.3,445.5 L573.2,446.6 L574.2,447.6 L575.1,448.6 L576.1,449.7 L577.1,450.7 L578.0,451.8 L579.0,452.8 L580.0,453.8 L580.9,454.8 L581.9,455.9 L582.9,456.9 L583.9,457.9 L584.9,458.9 L585.9,459.9 L586.9,461.0 L587.8,462.0 L588.8,463.0 L589.8,464.0 L590.8,465.1 L591.7,466.1 L592.7,467.1 L593.7,468.2 L594.6,469.2 L595.5,470.3 L596.4,471.4 L597.3,472.5 L598.2,473.6 L599.1,474.7 L599.9,475.9 L600.7,477.1 L601.4,478.3 L602.2,479.5 L602.9,480.7 L603.5,482.0 L604.2,483.2 L604.8,484.5 L605.4,485.8 L605.9,487.1 L606.5,488.4 L607.0,489.7 L607.5,491.1 L608.0,492.4 L608.4,493.8 L608.9,495.1 L609.3,496.5 L609.7,497.8 L610.1,499.2 L610.5,500.5 L610.9,501.9 L611.3,503.3 L611.7,504.6 L612.0,506.0 L612.4,507.4 L612.7,508.7 L613.0,510.1 L613.4,511.5 L613.7,512.9 L614.0,514.3 L614.3,515.6 L614.6,517.0 L614.9,518.4 L615.2,519.8 L615.4,521.2 L615.7,522.6 L616.0,524.0 L616.3,525.4 L616.6,526.7 L616.9,528.1 L617.2,529.5 L617.5,530.9 L617.8,532.3 L618.1,533.7 L618.4,535.0 L618.7,536.4 L619.0,537.8 L619.3,539.2 L619.7,540.6 L620.0,542.0 L620.3,543.3 L620.6,544.7 L620.9,546.1 L621.3,547.5 L621.6,548.9 L621.9,550.2 L622.2,551.6 L622.6,553.0 L622.9,554.4 L623.3,555.7 L623.6,557.1 L624.0,558.5 L624.3,559.9 L624.7,561.2 L625.1,562.6 L625.5,563.9 L625.9,565.3 L626.4,566.6 L626.8,568.0 L627.3,569.3 L627.8,570.7 L628.3,572.0 L628.8,573.3 L629.4,574.6 L629.9,575.9 L630.6,577.2 L631.2,578.5 L631.9,579.7 L632.7,580.9 L633.5,582.1 L634.4,583.2 L635.3,584.2 L636.4,585.2 L637.5,586.1 L638.7,586.8 L640.0,587.5 L641.3,587.9 L642.7,588.3 L644.1,588.6 L645.5,588.7 L646.9,588.8 L648.4,588.9 L649.8,588.9 L651.2,589.0 L652.6,589.0" fill="none" stroke="#ff0000" stroke-width="1.85" stroke-linejoin="round"/>
<path d="M415.7,458.2 L416.8,458.2 L417.9,458.2 L419.1,458.2 L420.2,458.3 L421.3,458.3 L422.4,458.3 L423.6,458.4 L424.7,458.4 L425.8,458.5 L426.9,458.5 L428.1,458.6 L429.2,458.6 L430.3,458.7 L431.4,458.8 L432.6,458.8 L433.7,458.9 L434.8,459.0 L435.9,459.1 L437.0,459.2 L438.2,459.3 L439.3,459.4 L440.4,459.5 L441.5,459.6 L442.6,459.8 L443.8,459.9 L444.9,460.0 L446.0,460.1 L447.1,460.3 L448.2,460.4 L449.3,460.6 L450.5,460.7 L451.6,460.9 L452.7,461.1 L453.8,461.2 L454.9,461.4 L456.0,461.6 L457.1,461.8 L458.2,462.0 L459.3,462.2 L460.4,462.3 L461.6,462.5 L462.7,462.7 L463.8,462.9 L464.9,463.2 L466.0,463.4 L467.1,463.6 L468.2,463.8 L469.3,464.0 L470.4,464.2 L471.5,464.4 L472.6,464.7 L473.7,464.9 L474.8,465.1 L475.9,465.3 L477.0,465.6 L478.1,465.8 L479.2,466.0 L480.3,466.3 L481.4,466.5 L482.5,466.7 L483.6,467.0 L484.7,467.3 L485.8,467.5 L486.9,467.8 L488.0,468.0 L489.1,468.3 L490.2,468.6 L491.3,468.9 L492.3,469.2 L493.4,469.5 L494.5,469.8 L495.6,470.1 L496.7,470.4 L497.7,470.7 L498.8,471.1 L499.9,471.4 L501.0,471.7 L502.0,472.1 L503.1,472.4 L504.2,472.7 L505.3,473.1 L506.3,473.4 L507.4,473.8 L508.5,474.1 L509.5,474.5 L510.6,474.9 L511.7,475.2 L512.7,475.6 L513.8,475.9 L514.9,476.3 L515.9,476.7 L517.0,477.0 L518.1,477.4 L519.1,477.7 L520.2,478.1 L521.3,478.5 L522.3,478.8 L523.4,479.2 L524.4,479.6 L525.5,480.0 L526.6,480.3 L527.6,480.7 L528.7,481.1 L529.7,481.5 L530.8,481.8 L531.9,482.2 L532.9,482.6 L534.0,483.0 L535.0,483.4 L536.1,483.8 L537.1,484.2 L538.2,484.6 L539.2,485.0 L540.3,485.4 L541.3,485.8 L542.4,486.2 L543.4,486.6 L544.5,487.0 L545.5,487.5 L546.6,487.9 L547.6,488.3 L548.6,488.8 L549.7,489.2 L550.7,489.6 L551.7,490.1 L552.8,490.5 L553.8,491.0 L554.8,491.4 L555.9,491.9 L556.9,492.4 L557.9,492.8 L558.9,493.3 L559.9,493.8 L561.0,494.3 L562.0,494.8 L563.0,495.2 L564.0,495.7 L565.0,496.2 L566.0,496.7 L567.0,497.3 L568.0,497.8 L569.0,498.3 L570.0,498.8 L571.0,499.3 L572.0,499.8 L573.0,500.4 L574.0,500.9 L575.0,501.4 L576.0,501.9 L577.0,502.5 L578.0,503.0 L578.9,503.5 L579.9,504.1 L580.9,504.6 L581.9,505.2 L582.9,505.7 L583.9,506.2 L584.9,506.8 L585.9,507.3 L586.8,507.9 L587.8,508.4 L588.8,509.0 L589.8,509.6 L590.7,510.2 L591.7,510.8 L592.6,511.4 L593.6,512.0 L594.5,512.6 L595.4,513.2 L596.3,513.9 L597.2,514.6 L598.2,515.2 L599.1,515.9 L599.9,516.6 L600.8,517.3 L601.7,518.0 L602.5,518.8 L603.3,519.5 L604.1,520.3 L604.9,521.2 L605.7,522.0 L606.4,522.9 L607.0,523.8 L607.7,524.7 L608.3,525.7 L608.9,526.6 L609.4,527.6 L610.0,528.6 L610.5,529.6 L611.0,530.6 L611.4,531.6 L611.9,532.7 L612.3,533.7 L612.7,534.8 L613.2,535.8 L613.6,536.8 L614.0,537.9 L614.4,538.9 L614.8,540.0 L615.3,541.0 L615.7,542.1 L616.1,543.1 L616.5,544.1 L616.9,545.2 L617.3,546.2 L617.7,547.3 L618.1,548.3 L618.5,549.4 L618.9,550.5 L619.3,551.5 L619.6,552.6 L620.0,553.7 L620.4,554.7 L620.7,555.8 L621.1,556.8 L621.5,557.9 L621.9,558.9 L622.3,560.0 L622.7,561.0 L623.1,562.1 L623.5,563.1 L624.0,564.2 L624.4,565.2 L624.8,566.3 L625.2,567.3 L625.7,568.3 L626.1,569.4 L626.6,570.4 L627.0,571.4 L627.5,572.5 L628.0,573.5 L628.5,574.5 L629.0,575.5 L629.5,576.5 L630.1,577.5 L630.7,578.4 L631.3,579.4 L631.9,580.3 L632.6,581.2 L633.3,582.1 L634.0,582.9 L634.8,583.7 L635.6,584.5 L636.5,585.3 L637.4,586.0 L638.3,586.6 L639.3,587.1 L640.3,587.6 L641.4,588.0 L642.5,588.3 L643.6,588.5 L644.7,588.7 L645.8,588.8 L647.0,588.8 L648.1,588.9 L649.3,588.9 L650.4,588.9 L651.5,589.0 L652.6,589.0" fill="none" stroke="#0000ff" stroke-width="1.85" stroke-linejoin="round"/>
<text x="540.4" y="627" text-anchor="middle" font-size="15.8" textLength="39.1" lengthAdjust="spacingAndGlyphs">r (km)</text>
<text transform="translate(362.3,561.2) rotate(-90)" font-size="15" textLength="195.4" lengthAdjust="spacingAndGlyphs">Energy Conditions (dyne/cm<tspan font-size="9.5" dy="-5.5">2</tspan><tspan dy="5.5">)</tspan></text>
<rect x="571.4" y="342.3" width="91.1" height="83.2" fill="#fff" stroke="#d4d4d4" stroke-width="1"/>
<text x="577" y="359.4" font-size="11.5" textLength="79.4" lengthAdjust="spacingAndGlyphs">RSR J1614-2230</text>
<path d="M577.2,371.5H600.8" stroke="#0a8a2a" stroke-width="1.6"/>
<text x="606.1" y="374.7" font-size="8.8" textLength="18.4" lengthAdjust="spacingAndGlyphs">WEC</text>
<path d="M577.2,385.7H600.8" stroke="#ff00ff" stroke-width="1.6"/>
<text x="606.1" y="388.9" font-size="8.8" textLength="15.6" lengthAdjust="spacingAndGlyphs">DEC</text>
<path d="M577.2,399.9H600.8" stroke="#ff0000" stroke-width="1.6"/>
<text x="606.1" y="403.1" font-size="8.8" textLength="14.4" lengthAdjust="spacingAndGlyphs">SEC</text>
<path d="M577.2,414.1H600.8" stroke="#0000ff" stroke-width="1.6"/>
<text x="606.1" y="417.3" font-size="8.8" textLength="15.8" lengthAdjust="spacingAndGlyphs">NEC</text>
<rect x="75.9" y="696.35" width="250.60" height="250.75" fill="none" stroke="#111" stroke-width="1.25"/>
<path d="M71.30,696.35H75.90M71.30,719.15H75.90M71.30,741.94H75.90M71.30,764.74H75.90M71.30,787.53H75.90M71.30,810.33H75.90M71.30,833.12H75.90M71.30,855.92H75.90M71.30,878.71H75.90M71.30,901.51H75.90M71.30,924.30H75.90M71.30,947.10H75.90M73.30,707.75H75.90M73.30,730.54H75.90M73.30,753.34H75.90M73.30,776.13H75.90M73.30,798.93H75.90M73.30,821.73H75.90M73.30,844.52H75.90M73.30,867.32H75.90M73.30,890.11H75.90M73.30,912.91H75.90M73.30,935.70H75.90M75.90,947.10V951.70M103.74,947.10V951.70M131.59,947.10V951.70M159.43,947.10V951.70M187.28,947.10V951.70M215.12,947.10V951.70M242.97,947.10V951.70M270.81,947.10V951.70M298.66,947.10V951.70M326.50,947.10V951.70" fill="none" stroke="#111" stroke-width="1.1"/>
<text x="67.4" y="700" text-anchor="end" font-size="10.3" stroke="#000" stroke-width="0.22" textLength="20.4" lengthAdjust="spacingAndGlyphs">2.28</text>
<text x="67.4" y="723" text-anchor="end" font-size="10.3" stroke="#000" stroke-width="0.22" textLength="20.4" lengthAdjust="spacingAndGlyphs">2.24</text>
<text x="67.4" y="746" text-anchor="end" font-size="10.3" stroke="#000" stroke-width="0.22" textLength="14.7" lengthAdjust="spacingAndGlyphs">2.2</text>
<text x="67.4" y="769" text-anchor="end" font-size="10.3" stroke="#000" stroke-width="0.22" textLength="20.4" lengthAdjust="spacingAndGlyphs">2.16</text>
<text x="67.4" y="791" text-anchor="end" font-size="10.3" stroke="#000" stroke-width="0.22" textLength="20.4" lengthAdjust="spacingAndGlyphs">2.12</text>
<text x="67.4" y="814" text-anchor="end" font-size="10.3" stroke="#000" stroke-width="0.22" textLength="20.4" lengthAdjust="spacingAndGlyphs">2.08</text>
<text x="67.4" y="837" text-anchor="end" font-size="10.3" stroke="#000" stroke-width="0.22" textLength="20.4" lengthAdjust="spacingAndGlyphs">2.04</text>
<text x="67.4" y="860" text-anchor="end" font-size="10.3" stroke="#000" stroke-width="0.22">2</text>
<text x="67.4" y="883" text-anchor="end" font-size="10.3" stroke="#000" stroke-width="0.22" textLength="20.4" lengthAdjust="spacingAndGlyphs">1.96</text>
<text x="67.4" y="905" text-anchor="end" font-size="10.3" stroke="#000" stroke-width="0.22" textLength="20.4" lengthAdjust="spacingAndGlyphs">1.92</text>
<text x="67.4" y="928" text-anchor="end" font-size="10.3" stroke="#000" stroke-width="0.22" textLength="20.4" lengthAdjust="spacingAndGlyphs">1.88</text>
<text x="67.4" y="951" text-anchor="end" font-size="10.3" stroke="#000" stroke-width="0.22" textLength="20.4" lengthAdjust="spacingAndGlyphs">1.84</text>
<text x="75.9" y="966" text-anchor="middle" font-size="10.3" stroke="#000" stroke-width="0.22">0</text>
<text x="103.7" y="966" text-anchor="middle" font-size="10.3" stroke="#000" stroke-width="0.22">1</text>
<text x="131.6" y="966" text-anchor="middle" font-size="10.3" stroke="#000" stroke-width="0.22">2</text>
<text x="159.4" y="966" text-anchor="middle" font-size="10.3" stroke="#000" stroke-width="0.22">3</text>
<text x="187.3" y="966" text-anchor="middle" font-size="10.3" stroke="#000" stroke-width="0.22">4</text>
<text x="215.1" y="966" text-anchor="middle" font-size="10.3" stroke="#000" stroke-width="0.22">5</text>
<text x="243.0" y="966" text-anchor="middle" font-size="10.3" stroke="#000" stroke-width="0.22">6</text>
<text x="270.8" y="966" text-anchor="middle" font-size="10.3" stroke="#000" stroke-width="0.22">7</text>
<text x="298.7" y="966" text-anchor="middle" font-size="10.3" stroke="#000" stroke-width="0.22">8</text>
<text x="326.5" y="966" text-anchor="middle" font-size="10.3" stroke="#000" stroke-width="0.22">9</text>
<path d="M76.1,719.2 L77.8,719.2 L79.6,719.3 L81.3,719.3 L83.1,719.4 L84.8,719.5 L86.5,719.6 L88.3,719.8 L90.0,720.0 L91.7,720.2 L93.5,720.4 L95.2,720.6 L96.9,720.9 L98.6,721.1 L100.4,721.4 L102.1,721.7 L103.8,722.1 L105.5,722.4 L107.2,722.8 L108.9,723.2 L110.6,723.6 L112.3,724.1 L113.9,724.5 L115.6,725.0 L117.3,725.5 L119.0,726.0 L120.6,726.5 L122.3,727.0 L123.9,727.6 L125.6,728.2 L127.2,728.8 L128.8,729.4 L130.5,730.0 L132.1,730.6 L133.7,731.3 L135.3,731.9 L136.9,732.6 L138.5,733.3 L140.1,734.0 L141.7,734.7 L143.3,735.4 L144.9,736.2 L146.4,736.9 L148.0,737.7 L149.6,738.4 L151.1,739.2 L152.7,740.0 L154.2,740.8 L155.8,741.6 L157.3,742.4 L158.8,743.3 L160.4,744.1 L161.9,744.9 L163.4,745.8 L164.9,746.7 L166.4,747.5 L167.9,748.4 L169.4,749.3 L170.9,750.2 L172.4,751.0 L173.9,751.9 L175.4,752.8 L176.9,753.7 L178.4,754.6 L179.9,755.5 L181.4,756.5 L182.8,757.4 L184.3,758.3 L185.8,759.2 L187.3,760.2 L188.7,761.1 L190.2,762.0 L191.7,763.0 L193.1,763.9 L194.6,764.9 L196.0,765.9 L197.5,766.8 L198.9,767.8 L200.4,768.8 L201.8,769.7 L203.2,770.7 L204.7,771.7 L206.1,772.7 L207.5,773.7 L208.9,774.7 L210.4,775.7 L211.8,776.7 L213.2,777.7 L214.6,778.7 L216.0,779.8 L217.5,780.8 L218.9,781.8 L220.3,782.8 L221.7,783.8 L223.1,784.9 L224.5,785.9 L225.9,786.9 L227.3,788.0 L228.7,789.0 L230.1,790.0 L231.5,791.1 L232.9,792.1 L234.3,793.1 L235.7,794.2 L237.1,795.2 L238.5,796.3 L239.9,797.3 L241.2,798.4 L242.6,799.4 L244.0,800.5 L245.4,801.5 L246.8,802.6 L248.2,803.6 L249.6,804.7 L251.0,805.7 L252.3,806.8 L253.7,807.8 L255.1,808.9 L256.5,810.0 L257.9,811.0 L259.3,812.1 L260.7,813.1 L262.0,814.2 L263.4,815.2 L264.8,816.3 L266.2,817.3 L267.6,818.3 L269.0,819.4 L270.4,820.4 L271.8,821.5 L273.2,822.5 L274.6,823.5 L276.0,824.5 L277.4,825.6 L278.8,826.6 L280.3,827.6 L281.7,828.6 L283.1,829.6 L284.5,830.6 L285.9,831.6 L287.3,832.7 L288.7,833.8 L290.0,835.0 L291.2,836.2 L292.3,837.5 L293.4,838.9 L294.4,840.3 L295.3,841.8 L296.1,843.4 L296.8,844.9 L297.5,846.5 L298.2,848.1 L298.8,849.8 L299.4,851.4 L299.9,853.1 L300.5,854.7 L300.9,856.4 L301.4,858.1 L301.8,859.8 L302.3,861.4 L302.7,863.1 L303.2,864.8 L303.6,866.5 L304.0,868.2 L304.4,869.9 L304.8,871.6 L305.2,873.3 L305.6,875.0 L305.9,876.7 L306.3,878.4 L306.7,880.1 L307.1,881.8 L307.4,883.5 L307.8,885.2 L308.1,886.9 L308.5,888.6 L308.8,890.3 L309.2,892.0 L309.5,893.7 L309.9,895.4 L310.2,897.1 L310.6,898.8 L310.9,900.5 L311.3,902.2 L311.6,904.0 L311.9,905.7 L312.3,907.4 L312.6,909.1 L313.0,910.8 L313.3,912.5 L313.7,914.2 L314.0,915.9 L314.4,917.6 L314.7,919.3 L315.1,921.0 L315.5,922.7 L315.8,924.4 L316.2,926.1 L316.6,927.8 L317.0,929.5" fill="none" stroke="#1010f5" stroke-width="1.4" stroke-linejoin="round"/>
<text x="200.9" y="985" text-anchor="middle" font-size="15.8" textLength="39.4" lengthAdjust="spacingAndGlyphs">r (km)</text>
<text transform="translate(41,827.3) rotate(-90)" font-size="19.5" font-family="Liberation Serif, serif">Γ</text>
<rect x="404.85" y="696.35" width="250.55" height="250.75" fill="none" stroke="#111" stroke-width="1.25"/>
<path d="M400.25,696.35H404.85M400.25,738.14H404.85M400.25,779.93H404.85M400.25,821.73H404.85M400.25,863.52H404.85M400.25,905.31H404.85M400.25,947.10H404.85M402.05,717.25H404.85M402.05,759.04H404.85M402.05,800.83H404.85M402.05,842.62H404.85M402.05,884.41H404.85M402.05,926.20H404.85M404.85,947.10V951.70M432.69,947.10V951.70M460.53,947.10V951.70M488.37,947.10V951.70M516.21,947.10V951.70M544.04,947.10V951.70M571.88,947.10V951.70M599.72,947.10V951.70M627.56,947.10V951.70M655.40,947.10V951.70M418.77,947.10V949.90M446.61,947.10V949.90M474.45,947.10V949.90M502.29,947.10V949.90M530.12,947.10V949.90M557.96,947.10V949.90M585.80,947.10V949.90M613.64,947.10V949.90M641.48,947.10V949.90" fill="none" stroke="#111" stroke-width="1.1"/>
<text x="396.4" y="700" text-anchor="end" font-size="10.3" stroke="#000" stroke-width="0.22" textLength="20.4" lengthAdjust="spacingAndGlyphs">0.12</text>
<text x="396.4" y="742" text-anchor="end" font-size="10.3" stroke="#000" stroke-width="0.22" textLength="14.7" lengthAdjust="spacingAndGlyphs">0.1</text>
<text x="396.4" y="784" text-anchor="end" font-size="10.3" stroke="#000" stroke-width="0.22" textLength="20.4" lengthAdjust="spacingAndGlyphs">0.08</text>
<text x="396.4" y="826" text-anchor="end" font-size="10.3" stroke="#000" stroke-width="0.22" textLength="20.4" lengthAdjust="spacingAndGlyphs">0.06</text>
<text x="396.4" y="867" text-anchor="end" font-size="10.3" stroke="#000" stroke-width="0.22" textLength="20.4" lengthAdjust="spacingAndGlyphs">0.04</text>
<text x="396.4" y="909" text-anchor="end" font-size="10.3" stroke="#000" stroke-width="0.22" textLength="20.4" lengthAdjust="spacingAndGlyphs">0.02</text>
<text x="396.4" y="951" text-anchor="end" font-size="10.3" stroke="#000" stroke-width="0.22">0</text>
<text x="404.9" y="966" text-anchor="middle" font-size="10.3" stroke="#000" stroke-width="0.22">0</text>
<text x="432.7" y="966" text-anchor="middle" font-size="10.3" stroke="#000" stroke-width="0.22">1</text>
<text x="460.5" y="966" text-anchor="middle" font-size="10.3" stroke="#000" stroke-width="0.22">2</text>
<text x="488.4" y="966" text-anchor="middle" font-size="10.3" stroke="#000" stroke-width="0.22">3</text>
<text x="516.2" y="966" text-anchor="middle" font-size="10.3" stroke="#000" stroke-width="0.22">4</text>
<text x="544.0" y="966" text-anchor="middle" font-size="10.3" stroke="#000" stroke-width="0.22">5</text>
<text x="571.9" y="966" text-anchor="middle" font-size="10.3" stroke="#000" stroke-width="0.22">6</text>
<text x="599.7" y="966" text-anchor="middle" font-size="10.3" stroke="#000" stroke-width="0.22">7</text>
<text x="627.6" y="966" text-anchor="middle" font-size="10.3" stroke="#000" stroke-width="0.22">8</text>
<text x="655.4" y="966" text-anchor="middle" font-size="10.3" stroke="#000" stroke-width="0.22">9</text>
<path d="M405.0,696.6 L406.8,696.5 L408.6,696.5 L410.5,696.5 L412.3,696.6 L414.0,696.8 L415.8,697.0 L417.6,697.3 L419.4,697.6 L421.1,698.0 L422.8,698.5 L424.6,699.0 L426.3,699.5 L428.0,700.1 L429.7,700.7 L431.4,701.4 L433.1,702.0 L434.7,702.8 L436.4,703.5 L438.0,704.3 L439.6,705.0 L441.3,705.8 L442.9,706.7 L444.5,707.5 L446.1,708.4 L447.6,709.2 L449.2,710.1 L450.7,711.1 L452.3,712.0 L453.8,712.9 L455.3,713.9 L456.8,714.9 L458.3,715.9 L459.8,716.9 L461.3,718.0 L462.7,719.0 L464.2,720.1 L465.6,721.2 L467.0,722.3 L468.4,723.4 L469.8,724.5 L471.2,725.7 L472.6,726.8 L474.0,728.0 L475.3,729.2 L476.7,730.4 L478.1,731.6 L479.4,732.8 L480.7,734.0 L482.1,735.2 L483.4,736.4 L484.7,737.7 L486.0,738.9 L487.3,740.2 L488.6,741.4 L489.9,742.7 L491.1,743.9 L492.4,745.2 L493.7,746.5 L495.0,747.8 L496.2,749.0 L497.5,750.3 L498.7,751.6 L500.0,752.9 L501.2,754.2 L502.4,755.5 L503.7,756.9 L504.9,758.2 L506.1,759.5 L507.3,760.8 L508.5,762.1 L509.8,763.5 L511.0,764.8 L512.2,766.2 L513.4,767.5 L514.6,768.8 L515.7,770.2 L516.9,771.5 L518.1,772.9 L519.3,774.3 L520.5,775.6 L521.7,777.0 L522.8,778.3 L524.0,779.7 L525.2,781.1 L526.3,782.4 L527.5,783.8 L528.7,785.2 L529.8,786.6 L531.0,788.0 L532.1,789.3 L533.3,790.7 L534.4,792.1 L535.6,793.5 L536.7,794.9 L537.8,796.3 L539.0,797.7 L540.1,799.1 L541.2,800.5 L542.3,801.9 L543.4,803.3 L544.6,804.8 L545.7,806.2 L546.8,807.6 L547.9,809.0 L548.9,810.5 L550.0,811.9 L551.1,813.3 L552.2,814.8 L553.3,816.2 L554.3,817.7 L555.4,819.1 L556.5,820.6 L557.5,822.0 L558.6,823.5 L559.7,824.9 L560.7,826.4 L561.8,827.8 L562.8,829.3 L563.9,830.8 L564.9,832.2 L566.0,833.7 L567.0,835.2 L568.0,836.6 L569.1,838.1 L570.1,839.6 L571.2,841.0 L572.2,842.5 L573.2,844.0 L574.3,845.5 L575.3,846.9 L576.3,848.4 L577.4,849.9 L578.4,851.3 L579.5,852.8 L580.5,854.3 L581.5,855.7 L582.6,857.2 L583.6,858.7 L584.7,860.2 L585.7,861.6 L586.7,863.1 L587.8,864.5 L588.8,866.0 L589.9,867.5 L590.9,868.9 L592.0,870.4 L593.0,871.9 L594.1,873.3 L595.2,874.8 L596.2,876.2 L597.3,877.7 L598.3,879.1 L599.4,880.6 L600.5,882.0 L601.5,883.5 L602.6,884.9 L603.7,886.4 L604.7,887.8 L605.8,889.3 L606.9,890.7 L608.0,892.2 L609.1,893.6 L610.1,895.0 L611.2,896.5 L612.3,897.9 L613.4,899.3 L614.5,900.7 L615.6,902.2 L616.7,903.6 L617.8,905.0 L618.8,906.5 L619.8,908.0 L620.7,909.6 L621.7,911.1 L622.6,912.7 L623.4,914.2 L624.3,915.8 L625.1,917.4 L625.9,919.0 L626.7,920.7 L627.5,922.3 L628.2,923.9 L629.0,925.6 L629.7,927.2 L630.5,928.8 L631.3,930.4 L632.1,932.0 L632.9,933.7 L633.7,935.3 L634.5,936.9 L635.4,938.4 L636.4,940.0 L637.4,941.4 L638.6,942.8 L639.9,944.1 L641.3,945.2 L642.8,946.2 L644.5,946.8 L646.3,947.0" fill="none" stroke="#1010f5" stroke-width="1.4" stroke-linejoin="round"/>
<text x="529.9" y="985" text-anchor="middle" font-size="15.8" textLength="39.0" lengthAdjust="spacingAndGlyphs">r (km)</text>
<path d="M360.8,820.9C361.4,818.4 363.4,817.6 365.2,817.6C367.6,817.6 369.6,818.6 369.6,820.2C369.6,821.6 368.2,822.4 366.4,822.4L362.8,822.4M366.4,822.4C368.2,822.4 369.7,823.2 369.7,824.7C369.7,826.4 367.6,827.3 365.2,827.3C363.4,827.3 361.4,826.5 360.7,824.0" fill="none" stroke="#111" stroke-width="1" stroke-linecap="round"/>
<text x="356.5" y="324" text-anchor="middle" font-family="Liberation Serif, serif" font-size="21" textLength="24.3" lengthAdjust="spacingAndGlyphs">(a)</text>
<text x="210.6" y="655" text-anchor="middle" font-family="Liberation Serif, serif" font-size="21" textLength="26.1" lengthAdjust="spacingAndGlyphs">(b)</text>
<text x="531.2" y="655" text-anchor="middle" font-family="Liberation Serif, serif" font-size="21" textLength="23.9" lengthAdjust="spacingAndGlyphs">(c)</text>
<text x="210.3" y="1039" text-anchor="middle" font-family="Liberation Serif, serif" font-size="21" textLength="25.7" lengthAdjust="spacingAndGlyphs">(d)</text>
<text x="522.7" y="1039" text-anchor="middle" font-family="Liberation Serif, serif" font-size="21" textLength="24.8" lengthAdjust="spacingAndGlyphs">(e)</text>
</svg>
</body></html>
